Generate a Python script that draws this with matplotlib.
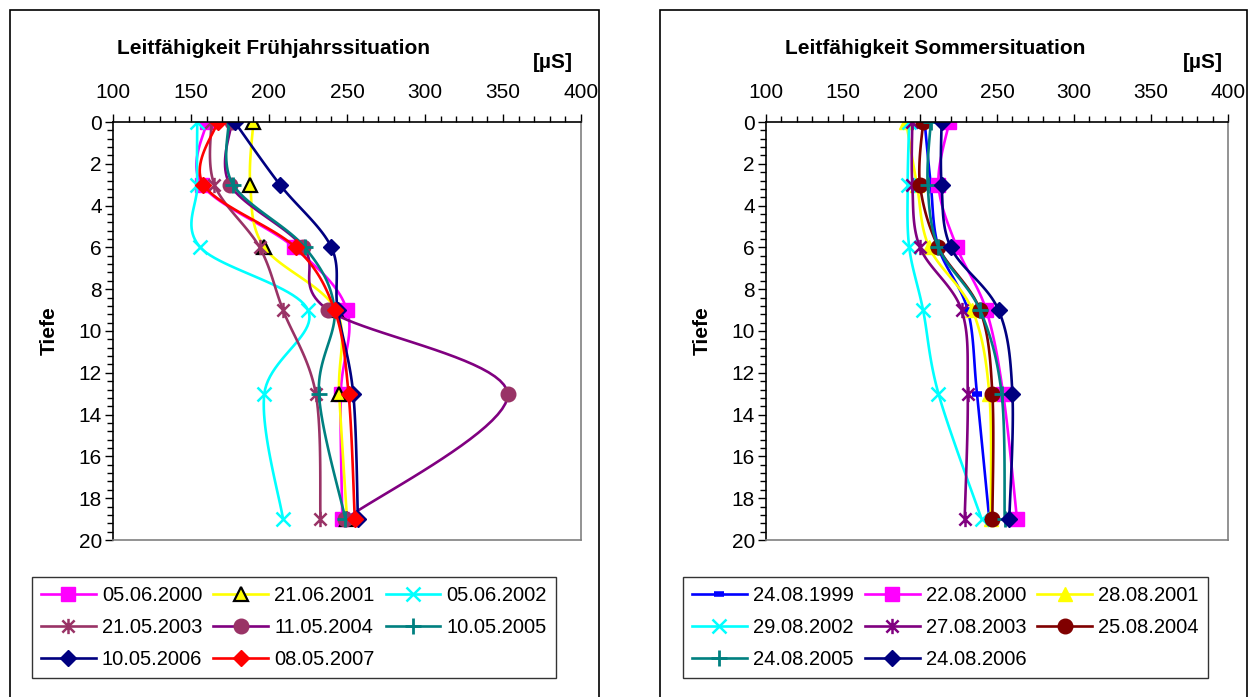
import numpy as np
import matplotlib
matplotlib.use("Agg")
import matplotlib.pyplot as plt
from matplotlib.lines import Line2D
from matplotlib.patches import Rectangle
from matplotlib.path import Path
from matplotlib.ticker import MultipleLocator

plt.rcParams['font.family'] = ['Liberation Sans', 'DejaVu Sans']

# ── Data ──────────────────────────────────────────────────────────────────────

DEPTH = [0, 3, 6, 9, 13, 19]

# Frühjahr (spring) conductivity [µS]
SPRING_LABELS = ['05.06.2000', '21.06.2001', '05.06.2002', '21.05.2003',
                 '11.05.2004', '10.05.2005', '10.05.2006', '08.05.2007']
SPRING_VALUES = [
    [160, 157, 216, 250, 246, 247],
    [190, 188, 197, 243, 245, 250],
    [154, 154, 156, 225, 197, 209],
    [163, 165, 194, 209, 230, 233],
    [176, 175, 222, 238, 353, 249],
    [174, 177, 223, 242, 232, 249],
    [178, 207, 240, 244, 254, 257],
    [167, 158, 217, 242, 251, 255],
]

# Sommer (summer) conductivity [µS]
SUMMER_LABELS = ['24.08.1999', '22.08.2000', '28.08.2001', '29.08.2002',
                 '27.08.2003', '25.08.2004', '24.08.2005', '24.08.2006']
SUMMER_VALUES = [
    [203, 207, 212, 231, 237, 245],
    [219, 212, 224, 243, 254, 263],
    [191, 198, 206, 234, 245, 246],
    [193, 192, 193, 202, 212, 240],
    [195, 195, 200, 227, 231, 229],
    [202, 200, 212, 239, 247, 247],
    [207, 205, 212, 239, 253, 255],
    [214, 214, 220, 251, 260, 258],
]

# ── Styles ────────────────────────────────────────────────────────────────────

# Excel-style asterisk: an "x" with a vertical bar through it
ASTER = Path([(-1, -1), (1, 1), (-1, 1), (1, -1), (0, -1.25), (0, 1.25)],
             [Path.MOVETO, Path.LINETO] * 3)
LW = 1.9

SPRING_STYLE = [
    dict(color='#FF00FF', marker='s', mfc='#FF00FF', mec='#FF00FF', ms=10),
    dict(color='#FFFF00', marker='^', mfc='#FFFF00', mec='black', ms=9.5, mew=1.6),
    dict(color='#00FFFF', marker='x', mfc='#00FFFF', mec='#00FFFF', ms=10.5, mew=1.8),
    dict(color='#993366', marker=ASTER, mfc='#993366', mec='#993366', ms=11, mew=1.8),
    dict(color='#800080', marker='o', mfc='#993366', mec='#993366', ms=10.5),
    dict(color='#008080', marker='+', mfc='#008080', mec='#008080', ms=11, mew=2),
    dict(color='#000080', marker='D', mfc='#000080', mec='#000080', ms=8),
    dict(color='#FF0000', marker='D', mfc='#FF0000', mec='#FF0000', ms=8),
]

SUMMER_STYLE = [
    dict(color='#0000FF', marker='_', mfc='#0000FF', mec='#0000FF', ms=7, mew=4),
    dict(color='#FF00FF', marker='s', mfc='#FF00FF', mec='#FF00FF', ms=10),
    dict(color='#FFFF00', marker='^', mfc='#FFFF00', mec='#FFFF00', ms=10),
    dict(color='#00FFFF', marker='x', mfc='#00FFFF', mec='#00FFFF', ms=10.5, mew=1.8),
    dict(color='#800080', marker=ASTER, mfc='#800080', mec='#800080', ms=11, mew=1.8),
    dict(color='#800000', marker='o', mfc='#800000', mec='#800000', ms=10.5),
    dict(color='#008080', marker='+', mfc='#008080', mec='#008080', ms=11, mew=2),
    dict(color='#000080', marker='D', mfc='#000080', mec='#000080', ms=8),
]

W, H = 1256, 697
SX, SY = 1.55, 20.9   # px per unit, used for the Excel-like smoothing


def smooth(xv, yv, n=24):
    """Bezier (Catmull-Rom) smoothing in screen-like space, like Excel."""
    P = np.column_stack([np.asarray(xv, float) * SX, np.asarray(yv, float) * SY])
    m = len(P)
    t = np.linspace(0, 1, n)[:, None]
    out = []
    for i in range(m - 1):
        p0, p1 = P[max(i - 1, 0)], P[i]
        p2, p3 = P[i + 1], P[min(i + 2, m - 1)]
        c1 = p1 + (p2 - p0) / 6
        c2 = p2 - (p3 - p1) / 6
        seg = ((1 - t) ** 3) * p1 + 3 * ((1 - t) ** 2) * t * c1 \
            + 3 * (1 - t) * t ** 2 * c2 + t ** 3 * p2
        out.append(seg if i == 0 else seg[1:])
    out = np.vstack(out)
    return out[:, 0] / SX, out[:, 1] / SY


def panel(rect, title, title_x, unit_x, labels, values, styles, leg_xy):
    ax = fig.add_axes(rect)
    handles = []
    for lab, vals, st in zip(labels, values, styles):
        xs, ys = smooth(vals, DEPTH)
        ax.plot(xs, ys, color=st['color'], lw=LW, solid_capstyle='round')
        mk = {k: v for k, v in st.items() if k != 'color'}
        ax.plot(vals, DEPTH, ls='none', **mk)
        handles.append(Line2D([], [], color=st['color'], lw=LW, **mk))

    ax.set_xlim(100, 400)
    ax.set_ylim(20, 0)
    ax.xaxis.tick_top()
    ax.xaxis.set_major_locator(MultipleLocator(50))
    ax.xaxis.set_minor_locator(MultipleLocator(10))
    ax.yaxis.set_major_locator(MultipleLocator(2))
    ax.yaxis.set_minor_locator(MultipleLocator(0.4))
    ax.tick_params(axis='x', which='major', length=6, width=1, pad=8.5, labelsize=15)
    ax.tick_params(axis='x', which='minor', length=4, width=1)
    ax.tick_params(axis='y', which='major', length=6, width=1, pad=2, labelsize=15)
    ax.tick_params(axis='y', which='minor', length=4, width=1)
    for s in ('top', 'left'):
        ax.spines[s].set_color('black')
        ax.spines[s].set_linewidth(1.2)
    for s in ('bottom', 'right'):
        ax.spines[s].set_color('#808080')
        ax.spines[s].set_linewidth(1.2)

    ax.set_ylabel('Tiefe', fontsize=15, fontweight='bold', labelpad=14)
    fig.text(title_x / W, 1 - 48 / H, title, fontsize=15, fontweight='bold',
             ha='left', va='center')
    fig.text(unit_x / W, 1 - 62 / H, '[µS]', fontsize=15, fontweight='bold',
             ha='left', va='center')

    # row-major order for a 3-column legend
    order = [0, 3, 6, 1, 4, 7, 2, 5]
    leg = fig.legend([handles[i] for i in order], [labels[i] for i in order],
                     loc='upper left', bbox_to_anchor=(leg_xy[0] / W, 1 - leg_xy[1] / H),
                     borderaxespad=0, ncol=3, fontsize=14.5, frameon=True,
                     fancybox=False, edgecolor='black', handlelength=2.72,
                     handletextpad=0.3, columnspacing=0.55, borderpad=0.45,
                     labelspacing=0.65)
    leg.get_frame().set_linewidth(1.0)
    return ax


fig = plt.figure(figsize=(W / 100, H / 100), dpi=100)

# outer chart frames
for x0, x1 in ((10, 599), (660, 1247)):
    fig.patches.append(Rectangle((x0 / W, -0.05), (x1 - x0) / W, 1.05 - 10 / H,
                                 transform=fig.transFigure, fill=False,
                                 edgecolor='black', lw=1.2))

panel([113 / W, 1 - 540 / H, (581 - 113) / W, (540 - 122) / H],
      'Leitfähigkeit Frühjahrssituation', 117, 533,
      SPRING_LABELS, SPRING_VALUES, SPRING_STYLE, (32, 577))

panel([766 / W, 1 - 540 / H, (1228 - 766) / W, (540 - 122) / H],
      'Leitfähigkeit Sommersituation', 785, 1183,
      SUMMER_LABELS, SUMMER_VALUES, SUMMER_STYLE, (683, 577))

fig.savefig('out.png', dpi=100)
